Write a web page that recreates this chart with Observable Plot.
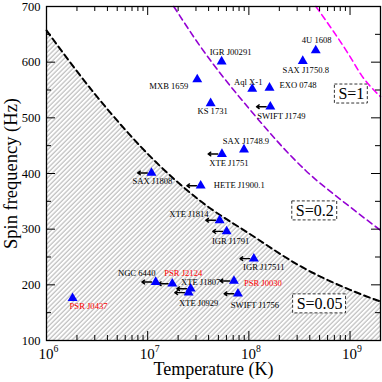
<!DOCTYPE html>
<html><head><meta charset="utf-8">
<script src="https://cdn.jsdelivr.net/npm/d3@7"></script>
<script src="https://cdn.jsdelivr.net/npm/@observablehq/plot@0.6"></script>
<style>html,body{margin:0;padding:0;background:#fff}</style>
</head><body><div id="chart"></div>
<script>
// ---------- data ----------
const names = ["4U 1608","SAX J1750.8","IGR J00291","MXB 1659","Aql X-1","EXO 0748","KS 1731","SWIFT J1749","SAX J1748.9","XTE J1751","HETE J1900.1","SAX J1808","XTE J1814","IGR J1791","IGR J17511","PSR J0030","SWIFT J1756","XTE J1807","XTE J0929","NGC 6440","PSR J2124","PSR J0437"];
const temperature = [4.58e8,3.41e8,5.38e7,3.09e7,1.08e8,1.6e8,4.19e7,1.63e8,8.95e7,5.42e7,3.34e7,1.09e7,5.14e7,6.03e7,1.12e8,7.12e7,7.8e7,2.66e7,2.54e7,1.2e7,1.75e7,1.81e6];
const spinFrequency = [621,602,601,569,552,554,526,520,443,435,378,401,316,296,247,207,184,193,186,205,202,176];
const upperLimit = [false,false,false,false,false,false,false,true,false,true,true,true,true,true,true,true,true,true,true,true,true,false];

// instability curves
const curveS005T = [1e6, 3e6, 1.2e7, 3.35e7, 1.05e8, 3.27e8, 1e9, 2e9];
const curveS005F = [657, 543, 421, 350, 290, 233, 191, 170];
const curveS02T = [1.81e7, 3.35e7, 1e8, 3.66e8, 1e9, 2e9];
const curveS02F = [700, 627, 517, 405, 340, 298];
const curveS1T = [4.6e8, 1e9, 1.28e9, 2e9];
const curveS1F = [700, 610, 578, 538];

const boxLabels = ["S=1", "S=0.2", "S=0.05"];
const boxT = [1.03e9, 4.48e8, 5.0e8];
const boxF = [543, 333, 166];

const xTicks = [1e6, 1e7, 1e8, 1e9];
const yTicks = [100, 200, 300, 400, 500, 600, 700];

// ---------- build ----------
const points = names.map((n, i) => ({name: n, T: temperature[i], f: spinFrequency[i], limit: upperLimit[i], red: n.startsWith("PSR")}));
const toCurve = (T, F) => T.map((t, i) => ({T: t, f: F[i]}));
const cS005 = toCurve(curveS005T, curveS005F);
const cS02 = toCurve(curveS02T, curveS02F);
const cS1 = toCurve(curveS1T, curveS1F);
const boxes = boxLabels.map((s, i) => ({s, T: boxT[i], f: boxF[i]}));

const W = 382, H = 382, mL = 46, mR = 2, mT = 6, mB = 42;
const innerW = W - mL - mR, innerH = H - mT - mB;
const xDomain = [1e6, 2e9], yDomain = [100, 700];

const xMinor = d3.scaleLog().domain(xDomain).ticks().filter(t => !xTicks.includes(t));
const yMinor = d3.range(150, 700, 100);

// label placement (style): [anchor, dx, dy]
const labelPlace = {
  "4U 1608": ["middle", 1, -10], "SAX J1750.8": ["middle", 3, 9], "IGR J00291": ["middle", 9, -9],
  "MXB 1659": ["end", -9, 7], "Aql X-1": ["middle", -4, -7], "EXO 0748": ["start", 10, -3],
  "KS 1731": ["middle", 2, 8], "SWIFT J1749": ["middle", 11, 10], "SAX J1748.9": ["middle", 2, -8],
  "XTE J1751": ["middle", 7, 9], "HETE J1900.1": ["start", 13, -1], "SAX J1808": ["middle", 1, 8],
  "XTE J1814": ["end", -11, -6], "IGR J1791": ["middle", 4, 10], "IGR J17511": ["middle", 10, 9],
  "PSR J0030": ["start", 10, 2], "SWIFT J1756": ["middle", 17, 11], "XTE J1807": ["middle", 10, -6],
  "XTE J0929": ["middle", 10, 11], "NGC 6440": ["middle", -19, -9], "PSR J2124": ["middle", 11, -10],
  "PSR J0437": ["middle", 16, 8]
};

const labelMarks = points.map(p => {
  const [anchor, dx, dy] = labelPlace[p.name];
  return Plot.text([p], {x: "T", y: "f", text: "name", textAnchor: anchor, dx, dy,
    fontSize: 8.6, fill: p.red ? "#ff0000" : "black"});
});

const chart = Plot.plot({
  width: W, height: H,
  marginLeft: mL, marginRight: mR, marginTop: mT, marginBottom: mB,
  style: {fontFamily: "'Liberation Serif', 'DejaVu Serif', serif", background: "white", color: "black"},
  x: {type: "log", domain: xDomain},
  y: {domain: yDomain},
  marks: [
    Plot.areaY(cS005, {x: "T", y1: 100, y2: "f", curve: "monotone-x", fill: "url(#hatch)"}),
    Plot.line(cS005, {x: "T", y: "f", curve: "monotone-x", stroke: "black", strokeWidth: 2, strokeDasharray: "6,4"}),
    Plot.line(cS02, {x: "T", y: "f", curve: "monotone-x", stroke: "#9400d3", strokeWidth: 1.6, strokeDasharray: "6,4"}),
    Plot.line(cS1, {x: "T", y: "f", curve: "monotone-x", stroke: "#ff00ff", strokeWidth: 1.6, strokeDasharray: "6,4"}),
    Plot.arrow(points.filter(p => p.limit), {x1: p => p.T * 0.91, x2: p => p.T * 0.73, y1: "f", y2: "f",
      stroke: "black", strokeWidth: 1.4, headLength: 4.5, headAngle: 70}),
    Plot.dot(points, {x: "T", y: "f", symbol: "triangle", fill: "#0000ff", r: 3.7}),
    ...labelMarks,
    Plot.text(boxes, {x: "T", y: "f", text: "s", fontSize: 16, fill: "black"}),
    Plot.frame({stroke: "black", strokeWidth: 1.3}),
    // inward ticks
    Plot.tickX(xTicks, {x: d => d, insetTop: innerH - 9, stroke: "black"}),
    Plot.tickX(xMinor, {x: d => d, insetTop: innerH - 5, stroke: "black"}),
    Plot.tickX(xTicks, {x: d => d, insetBottom: innerH - 9, stroke: "black"}),
    Plot.tickX(xMinor, {x: d => d, insetBottom: innerH - 5, stroke: "black"}),
    Plot.tickY(yTicks, {y: d => d, insetRight: innerW - 9, stroke: "black"}),
    Plot.tickY(yMinor, {y: d => d, insetRight: innerW - 5, stroke: "black"}),
    Plot.tickY(yTicks, {y: d => d, insetLeft: innerW - 9, stroke: "black"}),
    Plot.tickY(yMinor, {y: d => d, insetLeft: innerW - 5, stroke: "black"}),
    Plot.axisX({ticks: xTicks, tickSize: 0, tickPadding: 8, fontSize: 15, label: null, dx: 2,
      tickFormat: d => "10^" + Math.round(Math.log10(d))}),
    Plot.axisY({ticks: yTicks, tickSize: 0, tickPadding: 6, fontSize: 12.5, label: null}),
    Plot.text(["Temperature (K)"], {frameAnchor: "bottom", dy: 29, lineAnchor: "middle", textAnchor: "middle", text: d => d, fontSize: 18}),
    Plot.text(["Spin frequency (Hz)"], {frameAnchor: "left", dx: -35, rotate: -90, lineAnchor: "middle", textAnchor: "middle", text: d => d, fontSize: 18.5})
  ]
});

document.getElementById("chart").append(chart);

// hatch pattern
const svgSel = d3.select(chart);
const defs = svgSel.insert("defs", ":first-child");
const pw = 3.3;
const pat = defs.append("pattern").attr("id", "hatch").attr("patternUnits", "userSpaceOnUse")
  .attr("width", pw).attr("height", pw).attr("patternTransform", "rotate(45)");
pat.append("rect").attr("width", pw).attr("height", pw).attr("fill", "white");
pat.append("line").attr("x1", 1).attr("x2", 1).attr("y1", 0).attr("y2", pw)
  .attr("stroke", "#bdbdbd").attr("stroke-width", 1.2);

// superscript exponents
svgSel.selectAll("text").each(function() {
  const m = /^10\^(\d+)$/.exec(this.textContent);
  if (m) {
    const s = d3.select(this);
    s.text("10");
    s.append("tspan").attr("dy", "-0.75em").attr("font-size", "0.65em").text(m[1]);
  }
});

// dashed boxes around S labels
const svgRect = chart.getBoundingClientRect();
svgSel.selectAll("text").filter(function() { return /^S=/.test(this.textContent); }).each(function() {
  const b = this.getBoundingClientRect();
  const g = this.parentNode;
  const rect = document.createElementNS("http://www.w3.org/2000/svg", "rect");
  rect.setAttribute("x", b.left - svgRect.left - 4);
  rect.setAttribute("y", b.top - svgRect.top - 1);
  rect.setAttribute("width", b.width + 7);
  rect.setAttribute("height", b.height + 2);
  rect.setAttribute("fill", "white");
  rect.setAttribute("stroke", "#333");
  rect.setAttribute("stroke-dasharray", "3,2");
  rect.setAttribute("stroke-width", "1");
  g.parentNode.insertBefore(rect, g);
});
</script>
</body></html>
